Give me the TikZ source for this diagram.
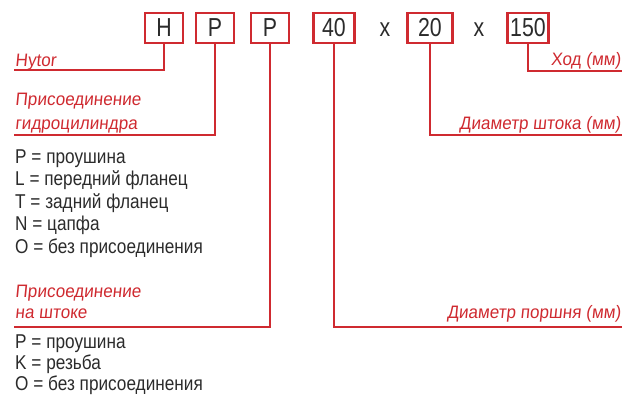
\documentclass[tikz,border=0pt]{standalone}
\usepackage{fontspec}
\setmainfont{Liberation Sans}[FakeStretch=0.82]
\newfontfamily\labfont{Liberation Sans}[FakeStretch=0.95,FakeSlant=0.1]
\newfontfamily\itemfont{Liberation Sans}[FakeStretch=0.86]
\definecolor{gred}{HTML}{CF2A30}
\definecolor{gtxt}{HTML}{2B2B2B}
\begin{document}
\begin{tikzpicture}[x=1pt,y=-1pt,
  codebox/.style={draw=gred, line width=2.2pt, minimum width=38pt, minimum height=30pt, inner sep=0pt, text=gtxt, font=\fontsize{26}{26}\selectfont},
  times/.style={text=gtxt, inner sep=0pt, font=\fontsize{26}{26}\selectfont},
  link/.style={draw=gred, line width=2pt},
  lab/.style={text=gred, inner sep=0pt, font=\labfont\fontsize{18}{20}\selectfont},
  item/.style={text=gtxt, inner sep=0pt, anchor=base west, font=\itemfont\fontsize{20}{22}\selectfont}]
\useasboundingbox (0,0) rectangle (622,410);
% code boxes
\node[codebox] (n1) at (164,28) {H};
\node[codebox] (n2) at (215,28) {P};
\node[codebox] (n3) at (270,28) {P};
\node[codebox, minimum width=41pt] (n4) at (334,28) {40};
\node[times] (x1) at (385,30) {x};
\node[codebox, minimum width=45pt] (n5) at (430,28) {20};
\node[times] (x2) at (479,30) {x};
\node[codebox, minimum width=41pt] (n6) at (528,28) {150};
% free ends
\coordinate (e1) at (14,70);
\coordinate (e2) at (14,135);
\coordinate (e3) at (14,327);
\coordinate (e4) at (622,327);
\coordinate (e5) at (622,135);
\coordinate (e6) at (622,71);
% connectors
\draw[link] (n1.south) |- (e1);
\draw[link] (n2.south) |- (e2);
\draw[link] (n3.south) |- (e3);
\draw[link] (n4.south) |- (e4);
\draw[link] (n5.south) |- (e5);
\draw[link] (n6.south) |- (e6);
% labels left
\node[lab, anchor=base west] (l1) at (15,66) {Hytor};
\node[lab, anchor=base west] (l2a) at (15,105) {Присоединение};
\node[lab, anchor=base west] (l2b) at (15,129) {гидроцилиндра};
\node[lab, anchor=base west] (l3a) at (15,297) {Присоединение};
\node[lab, anchor=base west] (l3b) at (15,318) {на штоке};
% labels right
\node[lab, anchor=base east] (r1) at (621,65) {Ход (мм)};
\node[lab, anchor=base east] (r2) at (621,129) {Диаметр штока (мм)};
\node[lab, anchor=base east] (r3) at (621,318) {Диаметр поршня (мм)};
% list 1
\node[item] (a1) at (15,163) {P = проушина};
\node[item] (a2) at (15,185) {L = передний фланец};
\node[item] (a3) at (15,208) {T = задний фланец};
\node[item] (a4) at (15,230) {N = цапфа};
\node[item] (a5) at (15,253) {O = без присоединения};
% list 2
\node[item] (b1) at (15,348) {P = проушина};
\node[item] (b2) at (15,369) {K = резьба};
\node[item] (b3) at (15,390) {O = без присоединения};
\end{tikzpicture}
\end{document}
